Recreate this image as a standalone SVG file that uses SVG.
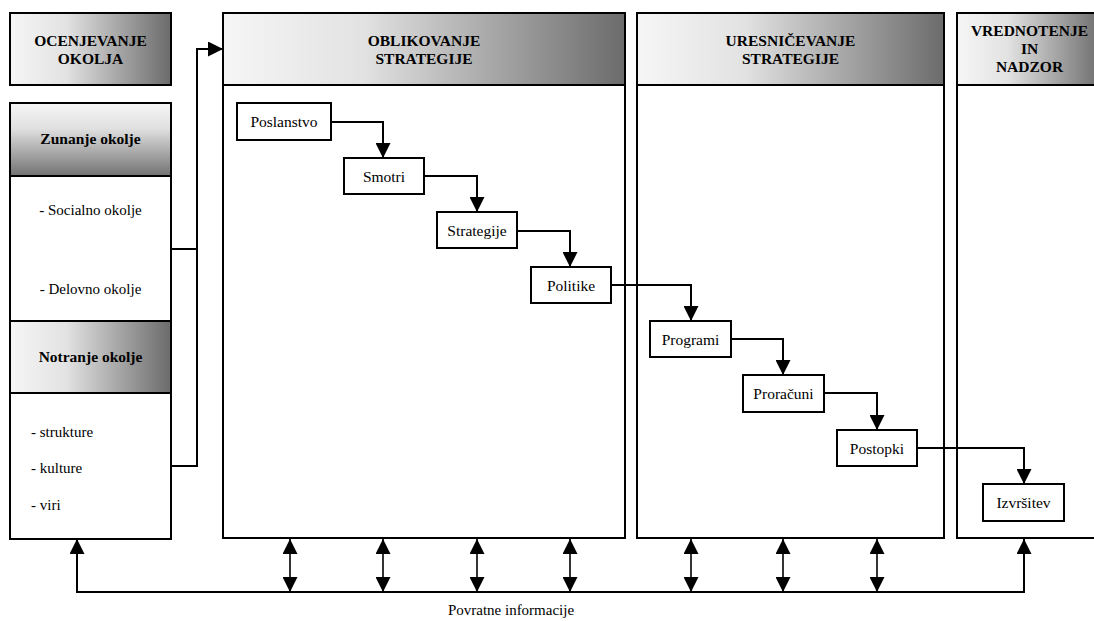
<svg xmlns="http://www.w3.org/2000/svg" width="1094" height="621" viewBox="0 0 1094 621">
<defs>
<linearGradient id="gh" x1="0" y1="0" x2="1" y2="0">
<stop offset="0" stop-color="#f6f6f6"/>
<stop offset="0.35" stop-color="#e2e2e2"/>
<stop offset="1" stop-color="#6b6b6b"/>
</linearGradient>
<linearGradient id="gv" x1="0" y1="0" x2="0" y2="1">
<stop offset="0" stop-color="#f6f6f6"/>
<stop offset="0.35" stop-color="#e0e0e0"/>
<stop offset="1" stop-color="#727272"/>
</linearGradient>
<marker id="ah" markerUnits="userSpaceOnUse" markerWidth="15" markerHeight="15" refX="15" refY="7.5" orient="auto-start-reverse">
<path d="M0,0 L15,7.5 L0,15 z" fill="#000"/>
</marker>
</defs>
<style>
.frame{fill:#fff;stroke:#000;stroke-width:2}
.hdrh{fill:url(#gh);stroke:#000;stroke-width:2}
.hdrv{fill:url(#gv);stroke:#000;stroke-width:2}
.box{fill:#fff;stroke:#000;stroke-width:2}
.h{font-weight:bold;font-size:15.5px;text-anchor:middle;fill:#000}
.t{font-size:15.5px;text-anchor:middle;fill:#000}
.l{font-size:15px;fill:#000}
.c{fill:none;stroke:#000;stroke-width:2}
.d{fill:none;stroke:#000;stroke-width:1.6}
</style>
<g font-family="Liberation Serif, Times New Roman, DejaVu Serif, serif">
<g id="ocenjevanje">
<rect class="hdrh" x="10" y="13" width="161" height="72"/>
<text class="h" x="90.5" y="46">OCENJEVANJE</text>
<text class="h" x="90.5" y="64">OKOLJA</text>
</g>

<g id="okolje">
<rect class="frame" x="10" y="103" width="161" height="436"/>
<rect class="hdrv" x="10" y="103" width="161" height="73"/>
<text class="h" x="90.5" y="144">Zunanje okolje</text>
<text class="l" x="90.5" y="215" text-anchor="middle">- Socialno okolje</text>
<text class="l" x="90.5" y="294" text-anchor="middle">- Delovno okolje</text>
<rect class="hdrh" x="10" y="321" width="161" height="72"/>
<text class="h" x="90.5" y="362">Notranje okolje</text>
<text class="l" x="31" y="437">- strukture</text>
<text class="l" x="31" y="473">- kulture</text>
<text class="l" x="31" y="510">- viri</text>
</g>

<g id="oblikovanje">
<rect class="frame" x="223" y="13" width="402" height="525"/>
<rect class="hdrh" x="223" y="13" width="402" height="72"/>
<text class="h" x="424" y="46">OBLIKOVANJE</text>
<text class="h" x="424" y="64">STRATEGIJE</text>
</g>

<g id="uresnicevanje">
<rect class="frame" x="637" y="13" width="307" height="525"/>
<rect class="hdrh" x="637" y="13" width="307" height="72"/>
<text class="h" x="790.5" y="46">URESNIČEVANJE</text>
<text class="h" x="790.5" y="64">STRATEGIJE</text>
</g>

<g id="vrednotenje">
<rect class="frame" x="957" y="13" width="146" height="525"/>
<rect class="hdrh" x="957" y="13" width="146" height="72"/>
<text class="h" x="1029.5" y="36">VREDNOTENJE</text>
<text class="h" x="1029.5" y="54">IN</text>
<text class="h" x="1029.5" y="72">NADZOR</text>
</g>

<g id="poslanstvo"><rect class="box" x="237" y="103" width="94" height="37"/><text class="t" x="284" y="127">Poslanstvo</text></g>
<g id="smotri"><rect class="box" x="344" y="158" width="80" height="36"/><text class="t" x="384" y="181.5">Smotri</text></g>
<g id="strategije"><rect class="box" x="437" y="212" width="80" height="36"/><text class="t" x="477" y="235.5">Strategije</text></g>
<g id="politike"><rect class="box" x="531" y="267" width="80" height="36"/><text class="t" x="571" y="290.5">Politike</text></g>
<g id="programi"><rect class="box" x="650" y="321" width="81" height="36"/><text class="t" x="690.5" y="344.5">Programi</text></g>
<g id="proracuni"><rect class="box" x="743" y="375" width="81" height="37"/><text class="t" x="783.5" y="399">Proračuni</text></g>
<g id="postopki"><rect class="box" x="837" y="430" width="80" height="36"/><text class="t" x="877" y="453.5">Postopki</text></g>
<g id="izvrsitev"><rect class="box" x="983" y="484" width="81" height="37"/><text class="t" x="1023.5" y="508">Izvršitev</text></g>

<g id="connectors">
<path class="c" d="M171,249 H197"/>
<path class="c" d="M171,466 H197 V49 H223" marker-end="url(#ah)"/>
<path class="c" d="M331,122 H383 V158" marker-end="url(#ah)"/>
<path class="c" d="M424,176 H477 V212" marker-end="url(#ah)"/>
<path class="c" d="M517,231 H570 V267" marker-end="url(#ah)"/>
<path class="c" d="M611,285 H691 V321" marker-end="url(#ah)"/>
<path class="c" d="M731,339 H783 V375" marker-end="url(#ah)"/>
<path class="c" d="M824,393 H877 V430" marker-end="url(#ah)"/>
<path class="c" d="M917,448 H1024 V484" marker-end="url(#ah)"/>
<path class="c" d="M77,539 V592 H1024 V539" marker-start="url(#ah)" marker-end="url(#ah)"/>
<path class="d" d="M290,539 V592" marker-start="url(#ah)" marker-end="url(#ah)"/>
<path class="d" d="M383,539 V592" marker-start="url(#ah)" marker-end="url(#ah)"/>
<path class="d" d="M477,539 V592" marker-start="url(#ah)" marker-end="url(#ah)"/>
<path class="d" d="M570,539 V592" marker-start="url(#ah)" marker-end="url(#ah)"/>
<path class="d" d="M691,539 V592" marker-start="url(#ah)" marker-end="url(#ah)"/>
<path class="d" d="M783,539 V592" marker-start="url(#ah)" marker-end="url(#ah)"/>
<path class="d" d="M877,539 V592" marker-start="url(#ah)" marker-end="url(#ah)"/>
</g>

<text class="l" x="511" y="615" text-anchor="middle" font-size="16">Povratne informacije</text>
</g>
</svg>
